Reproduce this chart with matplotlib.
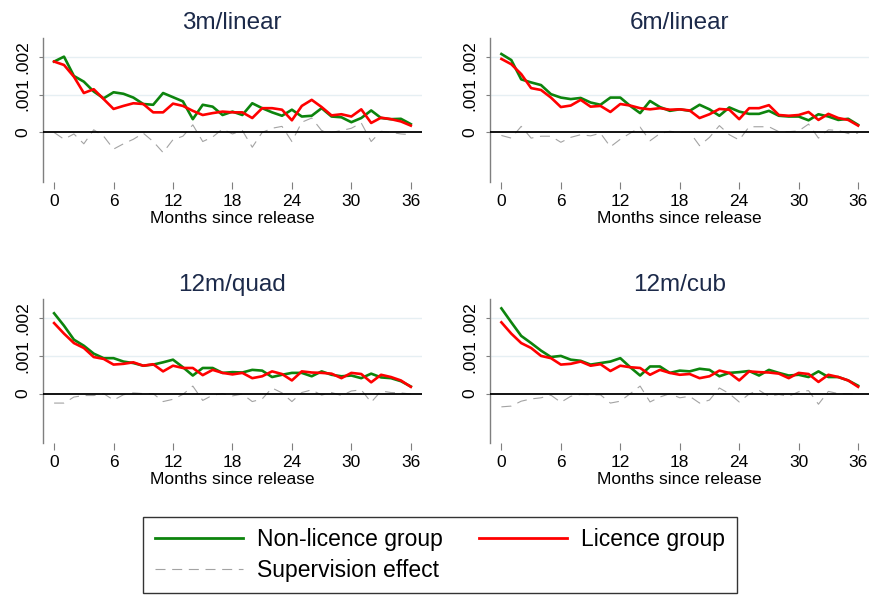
import matplotlib
matplotlib.use("Agg")
import matplotlib.pyplot as plt
from matplotlib.lines import Line2D

months = list(range(37))
titles = ["3m/linear", "6m/linear", "12m/quad", "12m/cub"]

# values in units of 0.001
nonlic_3m = [1.87, 2.00, 1.49, 1.34, 1.08, 0.90, 1.06, 1.02, 0.92, 0.75, 0.73, 1.04, 0.93,
             0.82, 0.35, 0.73, 0.68, 0.46, 0.55, 0.46, 0.77, 0.64, 0.53, 0.44, 0.60, 0.42,
             0.44, 0.64, 0.42, 0.40, 0.27, 0.38, 0.58, 0.38, 0.35, 0.36, 0.22]
lic_3m = [1.87, 1.78, 1.47, 1.04, 1.14, 0.88, 0.62, 0.70, 0.77, 0.75, 0.53, 0.53, 0.76,
          0.70, 0.57, 0.46, 0.51, 0.55, 0.53, 0.53, 0.38, 0.64, 0.64, 0.60, 0.32, 0.70,
          0.86, 0.67, 0.45, 0.48, 0.42, 0.61, 0.25, 0.39, 0.35, 0.29, 0.18]
sup_3m = [0.00, -0.18, -0.04, -0.30, 0.07, -0.10, -0.44, -0.30, -0.18, -0.02, -0.24, -0.53,
          -0.19, -0.10, 0.20, -0.24, -0.12, 0.09, -0.04, 0.05, -0.39, 0.00, 0.11, 0.16,
          -0.24, 0.27, 0.38, 0.05, 0.00, 0.05, 0.11, 0.25, -0.24, 0.03, 0.00, -0.04, -0.06]

nonlic_6m = [2.07, 1.91, 1.40, 1.32, 1.25, 1.01, 0.92, 0.88, 0.91, 0.79, 0.73, 0.92, 0.92,
             0.70, 0.51, 0.83, 0.67, 0.57, 0.61, 0.57, 0.73, 0.61, 0.44, 0.66, 0.55, 0.49,
             0.49, 0.57, 0.44, 0.42, 0.42, 0.32, 0.48, 0.42, 0.33, 0.36, 0.20]
lic_6m = [1.94, 1.80, 1.54, 1.17, 1.12, 0.92, 0.67, 0.71, 0.86, 0.68, 0.70, 0.54, 0.75,
          0.71, 0.64, 0.61, 0.64, 0.60, 0.61, 0.58, 0.38, 0.48, 0.62, 0.60, 0.35, 0.64,
          0.64, 0.72, 0.46, 0.44, 0.46, 0.54, 0.33, 0.49, 0.38, 0.33, 0.18]
sup_6m = [-0.08, -0.15, 0.16, -0.15, -0.10, -0.10, -0.26, -0.13, -0.06, -0.09, -0.02, -0.38,
          -0.18, -0.02, 0.14, -0.22, -0.03, 0.03, 0.00, 0.01, -0.35, -0.13, 0.18, -0.06,
          -0.20, 0.15, 0.15, 0.15, 0.02, 0.02, 0.04, 0.22, -0.15, 0.07, 0.05, -0.03, -0.02]

nonlic_12q = [2.13, 1.80, 1.43, 1.27, 1.06, 0.94, 0.94, 0.85, 0.81, 0.74, 0.77, 0.83, 0.90,
              0.70, 0.48, 0.68, 0.68, 0.55, 0.57, 0.56, 0.63, 0.61, 0.44, 0.50, 0.55, 0.55,
              0.46, 0.59, 0.50, 0.46, 0.48, 0.41, 0.53, 0.43, 0.41, 0.33, 0.19]
lic_12q = [1.87, 1.59, 1.34, 1.21, 0.97, 0.92, 0.77, 0.79, 0.83, 0.74, 0.78, 0.59, 0.74,
           0.68, 0.68, 0.49, 0.63, 0.55, 0.51, 0.55, 0.41, 0.46, 0.59, 0.52, 0.35, 0.59,
           0.56, 0.55, 0.53, 0.41, 0.55, 0.52, 0.30, 0.50, 0.44, 0.35, 0.18]
sup_12q = [-0.25, -0.25, -0.09, -0.05, -0.05, 0.00, -0.17, -0.03, 0.02, 0.00, 0.00, -0.21,
           -0.15, -0.02, 0.20, -0.18, -0.04, 0.00, -0.06, -0.01, -0.21, -0.14, 0.15, 0.02,
           -0.21, 0.03, 0.10, -0.04, 0.03, -0.05, 0.07, 0.10, -0.23, 0.07, 0.03, 0.02, -0.01]

nonlic_12c = [2.26, 1.89, 1.53, 1.34, 1.14, 0.97, 1.00, 0.90, 0.87, 0.77, 0.81, 0.85, 0.94,
              0.70, 0.48, 0.72, 0.72, 0.55, 0.61, 0.59, 0.66, 0.63, 0.46, 0.55, 0.57, 0.60,
              0.48, 0.63, 0.55, 0.48, 0.50, 0.44, 0.59, 0.44, 0.44, 0.35, 0.21]
lic_12c = [1.89, 1.59, 1.34, 1.21, 1.00, 0.94, 0.77, 0.79, 0.85, 0.74, 0.78, 0.60, 0.74,
           0.70, 0.68, 0.50, 0.63, 0.55, 0.50, 0.52, 0.41, 0.46, 0.61, 0.55, 0.35, 0.59,
           0.57, 0.56, 0.53, 0.41, 0.55, 0.52, 0.31, 0.50, 0.44, 0.35, 0.18]
sup_12c = [-0.35, -0.33, -0.20, -0.14, -0.11, -0.04, -0.23, -0.07, -0.02, -0.03, -0.03, -0.25,
           -0.20, 0.00, 0.20, -0.22, -0.09, 0.00, -0.11, -0.07, -0.25, -0.17, 0.15, 0.00,
           -0.22, -0.01, 0.09, -0.07, -0.02, -0.07, 0.05, 0.08, -0.28, 0.06, 0.00, 0.00, -0.03]

panels = [
    (nonlic_3m, lic_3m, sup_3m),
    (nonlic_6m, lic_6m, sup_6m),
    (nonlic_12q, lic_12q, sup_12q),
    (nonlic_12c, lic_12c, sup_12c),
]

W, H = 871, 595
fig = plt.figure(figsize=(W / 100, H / 100), dpi=100)
plt.rcParams['font.family'] = ['Liberation Sans', 'DejaVu Sans']

# pixel boxes: left, top, width, height
boxes = [(42.7, 37.7, 379, 144), (490, 37.7, 379, 144),
         (42.7, 299.3, 379, 143.4), (490, 299.3, 379, 143.4)]

green = '#0d840d'
red = '#ff0000'
grey = '#a3a3a3'
dash = (0, (9, 6))

for (l, t, w, h), title, (g, r, s) in zip(boxes, titles, panels):
    ax = fig.add_axes([l / W, 1 - (t + h) / H, w / W, h / H])
    scale = 0.001
    ax.axhline(0.001, color='#e6eff3', lw=1, zorder=0)
    ax.axhline(0.002, color='#e6eff3', lw=1, zorder=0)
    ax.plot(months, [v * scale for v in s], color=grey, lw=0.8, ls=dash, zorder=2)
    ax.axhline(0, color='black', lw=1.3, zorder=3)
    ax.plot(months, [v * scale for v in g], color=green, lw=1.9, zorder=4)
    ax.plot(months, [v * scale for v in r], color=red, lw=1.9, zorder=5)
    ax.set_xlim(-1.15, 37.1)
    ax.set_ylim(-0.0013, 0.0025)
    ax.set_xticks(range(0, 37, 6))
    ax.set_yticks([0, 0.001, 0.002])
    ax.set_yticklabels(['0', '.001', '.002'], rotation=90, va='center')
    for sp in ['top', 'right', 'bottom']:
        ax.spines[sp].set_visible(False)
    ax.spines['left'].set_color('#7f7f7f')
    ax.spines['left'].set_linewidth(1.0)
    ax.tick_params(axis='x', length=5, color='#7f7f7f', labelsize=12.5, pad=4)
    ax.tick_params(axis='y', length=3, color='#7f7f7f', labelsize=12.5, pad=6)
    ax.set_xlabel('Months since release', fontsize=12.5, labelpad=1)
    ax.set_title(title, fontsize=17.5, color='#1c2a4a', pad=6)

handles = [Line2D([], [], color=green, lw=2),
           Line2D([], [], color=grey, lw=0.8, ls=dash),
           Line2D([], [], color=red, lw=2)]
labels = ['Non-licence group', 'Supervision effect', 'Licence group']
leg = fig.legend(handles, labels, ncol=2, loc='center', bbox_to_anchor=(440 / W, 1 - 555 / H),
                 fontsize=16.5, frameon=True, fancybox=False, edgecolor='black',
                 handlelength=3.85, handletextpad=0.6, columnspacing=1.6,
                 borderpad=0.5, labelspacing=0.35, borderaxespad=0)
leg.get_frame().set_linewidth(1.0)

fig.savefig('out.png', dpi=100)
